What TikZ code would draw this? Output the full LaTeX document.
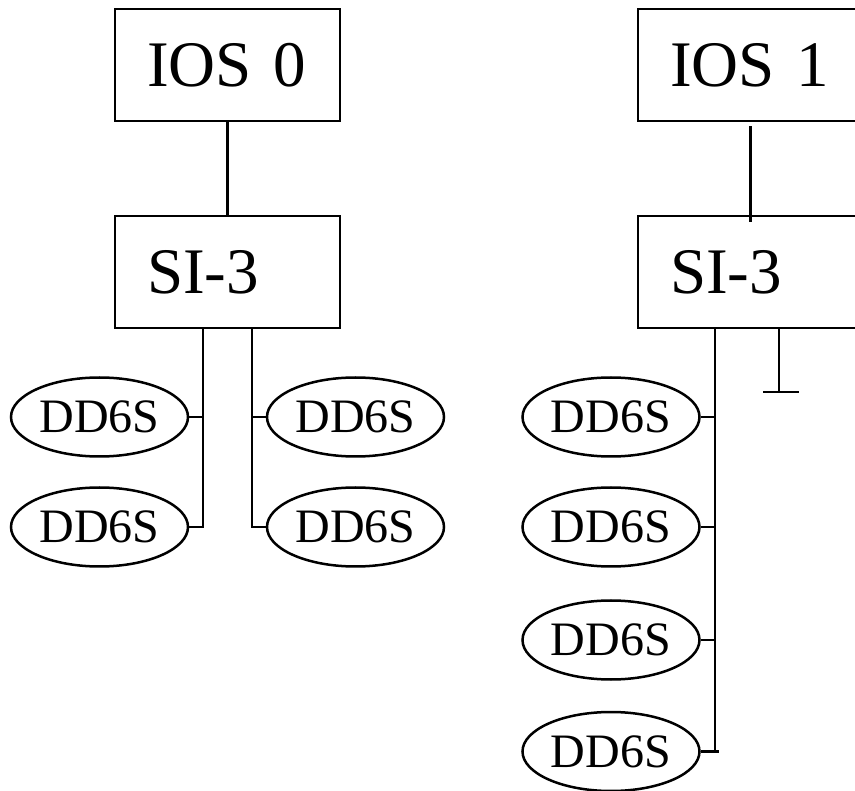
\documentclass[tikz,border=0pt]{standalone}
\usepackage{fontspec}
\setmainfont{Liberation Serif}
\usetikzlibrary{shapes.geometric}
\tikzset{
  unitbox/.style={draw, line width=2.5pt, rectangle, minimum width=225pt, minimum height=112pt,
    text width=161pt, inner xsep=32pt, align=left, font=\fontsize{65}{68}\selectfont},
  disk/.style={draw, line width=2.5pt, ellipse, minimum width=177pt, minimum height=79pt, inner sep=0pt,
    font=\fontsize{48}{50}\selectfont},
  wire/.style={line width=2.5pt}
}
\begin{document}
\begin{tikzpicture}[x=1pt,y=-1pt]
\useasboundingbox (0,0) rectangle (855,791);
% left side
\node[unitbox] (ios0) at (227.5,65) {IOS 0};
\node[unitbox] (si0) at (227.5,272) {SI-3};
\node[disk] (dl1) at (99.5,417) {DD6S};
\node[disk] (dl2) at (99.5,527) {DD6S};
\node[disk] (dr1) at (355.5,417) {DD6S};
\node[disk] (dr2) at (355.5,527) {DD6S};
\coordinate (bl) at (203,0);
\coordinate (br) at (252,0);
\draw[wire] (ios0.south) -- (si0.north);
\draw[wire] (bl |- si0.south) |- (dl2.east);
\draw[wire] (dl1.east) -- (dl1.east -| bl);
\draw[wire] (br |- si0.south) |- (dr2.west);
\draw[wire] (dr1.west) -- (dr1.west -| br);
% right side
\node[unitbox] (ios1) at (750.5,65) {IOS 1};
\node[unitbox] (si1) at (750.5,272) {SI-3};
\node[disk] (d1) at (611,417) {DD6S};
\node[disk] (d2) at (611,527) {DD6S};
\node[disk] (d3) at (611,640) {DD6S};
\node[disk] (d4) at (611,751.5) {DD6S};
\coordinate (bb) at (715,0);
\coordinate (tt) at (779,392);
\draw[wire] ([yshift=-4pt]ios1.south) -- ([yshift=-7pt]si1.north);
\draw[wire] (bb |- si1.south) -- (bb |- d4.east);
\draw[wire] (d1.east) -- (d1.east -| bb);
\draw[wire] (d2.east) -- (d2.east -| bb);
\draw[wire] (d3.east) -- (d3.east -| bb);
\draw[wire] (d4.east) -- ([xshift=4pt]d4.east -| bb);
\draw[wire] (tt |- si1.south) -- (tt);
\draw[wire] ([xshift=-16pt]tt) -- ([xshift=20pt]tt);
\end{tikzpicture}
\end{document}
